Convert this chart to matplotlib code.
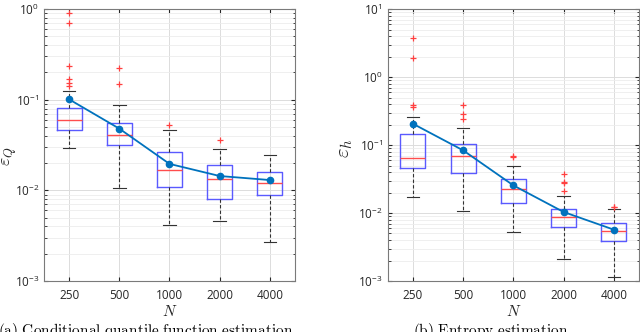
import numpy as np
import matplotlib
matplotlib.use('Agg')
import matplotlib.pyplot as plt
from matplotlib.ticker import LogLocator, FixedLocator, FuncFormatter, NullFormatter

plt.rcParams['font.family'] = ['Open Sans', 'DejaVu Sans']
plt.rcParams['mathtext.fontset'] = 'cm'

N_labels = ['250', '500', '1000', '2000', '4000']

# (a) conditional quantile function estimation error
q_whislo = [0.0297, 0.0107, 0.00412, 0.0046, 0.0027]
q_q1     = [0.0466, 0.0313, 0.0108, 0.00805, 0.0089]
q_med    = [0.060, 0.0413, 0.0166, 0.0133, 0.0122]
q_q3     = [0.082, 0.055, 0.0264, 0.0191, 0.0158]
q_whishi = [0.126, 0.087, 0.0466, 0.0285, 0.0244]
q_mean   = [0.101, 0.048, 0.0196, 0.0144, 0.0130]
q_fliers = [[0.90, 0.70, 0.237, 0.170, 0.152, 0.142],
            [0.223, 0.149],
            [0.0524],
            [0.036],
            []]

# (b) entropy estimation error
h_whislo = [0.0170, 0.0107, 0.0052, 0.00208, 0.00116]
h_q1     = [0.0454, 0.0383, 0.0139, 0.00615, 0.0039]
h_med    = [0.0637, 0.0689, 0.0223, 0.00863, 0.0055]
h_q3     = [0.145, 0.1035, 0.032, 0.0113, 0.00705]
h_whishi = [0.261, 0.180, 0.049, 0.018, 0.0115]
h_mean   = [0.206, 0.0836, 0.0255, 0.01035, 0.00569]
h_fliers = [[3.7, 1.88, 0.383, 0.366],
            [0.383, 0.289, 0.241],
            [0.0697, 0.0676],
            [0.0375, 0.0289, 0.0279, 0.0211],
            [0.0121, 0.0124]]


def exp_fmt(v, pos):
    e = int(round(np.log10(v)))
    return r'$\mathregular{10^{%d}}$' % e


def draw(ax, whislo, q1, med, q3, whishi, mean, fliers, ylim):
    stats = [dict(whislo=a, q1=b, med=c, q3=d, whishi=e, fliers=f)
             for a, b, c, d, e, f in zip(whislo, q1, med, q3, whishi, fliers)]
    pos = np.arange(1, len(stats) + 1)
    ax.bxp(stats, positions=pos, widths=0.5, capwidths=0.25, showfliers=True,
           boxprops=dict(color='#5a5aff', lw=1.0),
           medianprops=dict(color='#ff4d4d', lw=1.0),
           whiskerprops=dict(color='#333333', lw=0.8, ls=(0, (3, 2))),
           capprops=dict(color='#333333', lw=0.8),
           flierprops=dict(marker='+', markeredgecolor='#ff4040',
                           markersize=5, markeredgewidth=0.9, ls='none'))
    ax.plot(pos, mean, '-o', color='#0072BD', lw=1.3, ms=4.5, zorder=5)
    ax.set_yscale('log')
    ax.set_ylim(*ylim)
    ax.set_xlim(0.5, len(stats) + 0.5)
    ax.xaxis.set_major_locator(FixedLocator(pos))
    ax.set_xticklabels(N_labels)
    ax.yaxis.set_major_locator(LogLocator(base=10, numticks=10))
    ax.yaxis.set_major_formatter(FuncFormatter(exp_fmt))
    ax.yaxis.set_minor_locator(LogLocator(base=10, subs=np.arange(2, 10), numticks=20))
    ax.yaxis.set_minor_formatter(NullFormatter())
    ax.grid(True, which='major', color='#dcdcdc', lw=0.7)
    ax.grid(True, which='minor', axis='y', color='#ececec', lw=0.6)
    ax.set_axisbelow(True)
    ax.tick_params(which='both', direction='in', top=True, right=True,
                   colors='#262626', labelsize=8.5, length=3)
    ax.tick_params(which='minor', length=1.8)
    ax.tick_params(axis='x', pad=6)
    for s in ax.spines.values():
        s.set_color('#7a7a7a')
        s.set_linewidth(0.8)
    ax.set_xlabel(r'$N$', fontsize=11, color='#262626', labelpad=2)


fig = plt.figure(figsize=(6.4, 3.32), dpi=100)
ax1 = fig.add_axes([0.0688, 0.1536, 0.392, 0.819])
ax2 = fig.add_axes([0.6058, 0.1536, 0.3927, 0.819])

draw(ax1, q_whislo, q_q1, q_med, q_q3, q_whishi, q_mean, q_fliers, (1e-3, 1e0))
draw(ax2, h_whislo, h_q1, h_med, h_q3, h_whishi, h_mean, h_fliers, (1e-3, 1e1))

ax1.set_ylabel(r'$\varepsilon_Q$', fontsize=13, color='#262626')
ax1.yaxis.set_label_coords(-0.1, 0.46)
ax2.set_ylabel(r'$\varepsilon_h$', fontsize=15, color='#262626')
ax2.yaxis.set_label_coords(-0.13, 0.49)

fig.text(0.228, 0.033, r'$\mathrm{(a)\ Conditional\ quantile\ function\ estimation}$',
         ha='center', va='top', fontsize=11)
fig.text(0.767, 0.033, r'$\mathrm{(b)\ Entropy\ estimation}$',
         ha='center', va='top', fontsize=11)

fig.savefig('out.png', dpi=100)
